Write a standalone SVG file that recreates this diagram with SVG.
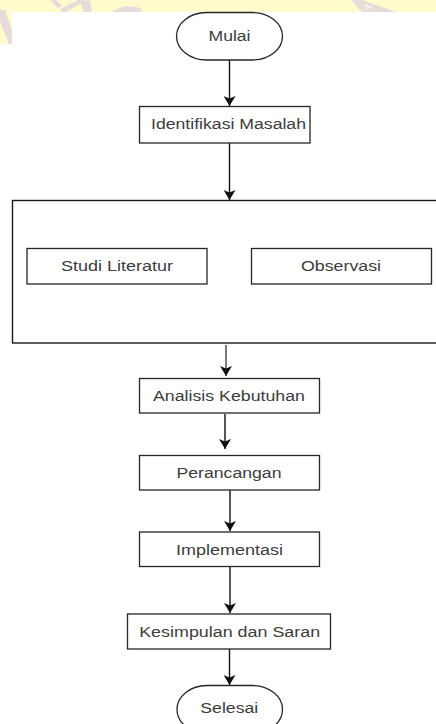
<svg xmlns="http://www.w3.org/2000/svg" width="436" height="724" viewBox="0 0 436 724">
<defs>
<style>
.bg{fill:#ffffff}
.wm{fill:#fffbcc}
.wmg{fill:#e6dcda}
.box{fill:#ffffff;stroke:#262626;stroke-width:1.3}
.term{fill:#ffffff;stroke:#262626;stroke-width:1.3}
.cont{fill:none;stroke:#1a1a1a;stroke-width:1.4}
.lbl{font-family:"Liberation Sans",Arial,sans-serif;font-size:14px;fill:#3c3c3c;text-anchor:middle}
.edge{stroke:#111111;stroke-width:1.4;fill:none}
</style>
<marker id="ah" viewBox="0 0 10 12" refX="10" refY="6" markerWidth="10" markerHeight="12" markerUnits="userSpaceOnUse" orient="auto">
<path d="M0,0 L10,6 L0,12 L2.5,6 Z" fill="#111111"/>
</marker>
</defs>
<rect class="bg" x="0" y="0" width="436" height="724"/>
<g id="watermark">
<rect class="wm" x="0" y="0" width="436" height="12"/>
<rect class="wm" x="0" y="0" width="12" height="44"/>
<polygon class="wmg" points="0,10 5,10 12,30 12,44 9,44 0,22"/>
<polygon class="wmg" points="50,0 56,0 62,6 58,8"/>
<polygon class="wmg" points="62,8 78,0 86,0 66,12 60,12"/>
<polygon class="wmg" points="80,2 90,0 92,12 84,12"/>
<path class="wmg" d="M112,12 Q124,3 140,8 L142,12 Z"/>
<polygon class="wmg" points="351,0 362,0 396,12 362,12"/>
<polygon fill="#f4ece0" points="364,3 373,7 366,10"/>
</g>
<g id="connectors">
<line class="edge" x1="229.5" y1="60" x2="229.5" y2="106" marker-end="url(#ah)"/>
<line class="edge" x1="229.5" y1="143" x2="229.5" y2="200" marker-end="url(#ah)"/>
<line class="edge" x1="226" y1="345" x2="226" y2="376" marker-end="url(#ah)" style="stroke:#444"/>
<line class="edge" x1="225" y1="414" x2="225" y2="449" marker-end="url(#ah)"/>
<line class="edge" x1="230" y1="490" x2="230" y2="531" marker-end="url(#ah)"/>
<line class="edge" x1="230" y1="567" x2="230" y2="613" marker-end="url(#ah)"/>
<line class="edge" x1="229.5" y1="649" x2="229.5" y2="685" marker-end="url(#ah)"/>
</g>
<g id="mulai">
<rect class="term" x="176.5" y="12.5" width="106" height="47.5" rx="30" ry="24"/>
<text class="lbl" x="229.5" y="41" textLength="42" lengthAdjust="spacingAndGlyphs">Mulai</text>
</g>
<g id="identifikasi">
<rect class="box" x="139.5" y="106.5" width="170.5" height="36.5"/>
<text class="lbl" x="228.5" y="129" textLength="155" lengthAdjust="spacingAndGlyphs">Identifikasi Masalah</text>
</g>
<g id="container">
<rect class="cont" x="12.5" y="200.5" width="440" height="142.5"/>
</g>
<g id="studi">
<rect class="box" x="27" y="248.5" width="180" height="35.5"/>
<text class="lbl" x="117" y="271" textLength="112" lengthAdjust="spacingAndGlyphs">Studi Literatur</text>
</g>
<g id="observasi">
<rect class="box" x="251.5" y="248.5" width="180" height="35.5"/>
<text class="lbl" x="341" y="271" textLength="80" lengthAdjust="spacingAndGlyphs">Observasi</text>
</g>
<g id="analisis">
<rect class="box" x="139.5" y="378.5" width="180" height="34.5"/>
<text class="lbl" x="229" y="400.5" textLength="152" lengthAdjust="spacingAndGlyphs">Analisis Kebutuhan</text>
</g>
<g id="perancangan">
<rect class="box" x="139.5" y="455.5" width="180" height="34.5"/>
<text class="lbl" x="229" y="477.5" textLength="105" lengthAdjust="spacingAndGlyphs">Perancangan</text>
</g>
<g id="implementasi">
<rect class="box" x="139.5" y="532" width="180" height="34.5"/>
<text class="lbl" x="229.5" y="554.5" textLength="107" lengthAdjust="spacingAndGlyphs">Implementasi</text>
</g>
<g id="kesimpulan">
<rect class="box" x="127.5" y="614" width="203" height="35"/>
<text class="lbl" x="229.7" y="636.5" textLength="181" lengthAdjust="spacingAndGlyphs">Kesimpulan dan Saran</text>
</g>
<g id="selesai">
<rect class="term" x="177" y="685.5" width="105.5" height="48" rx="30" ry="24"/>
<text class="lbl" x="229.3" y="712.5" textLength="58" lengthAdjust="spacingAndGlyphs">Selesai</text>
</g>
</svg>
